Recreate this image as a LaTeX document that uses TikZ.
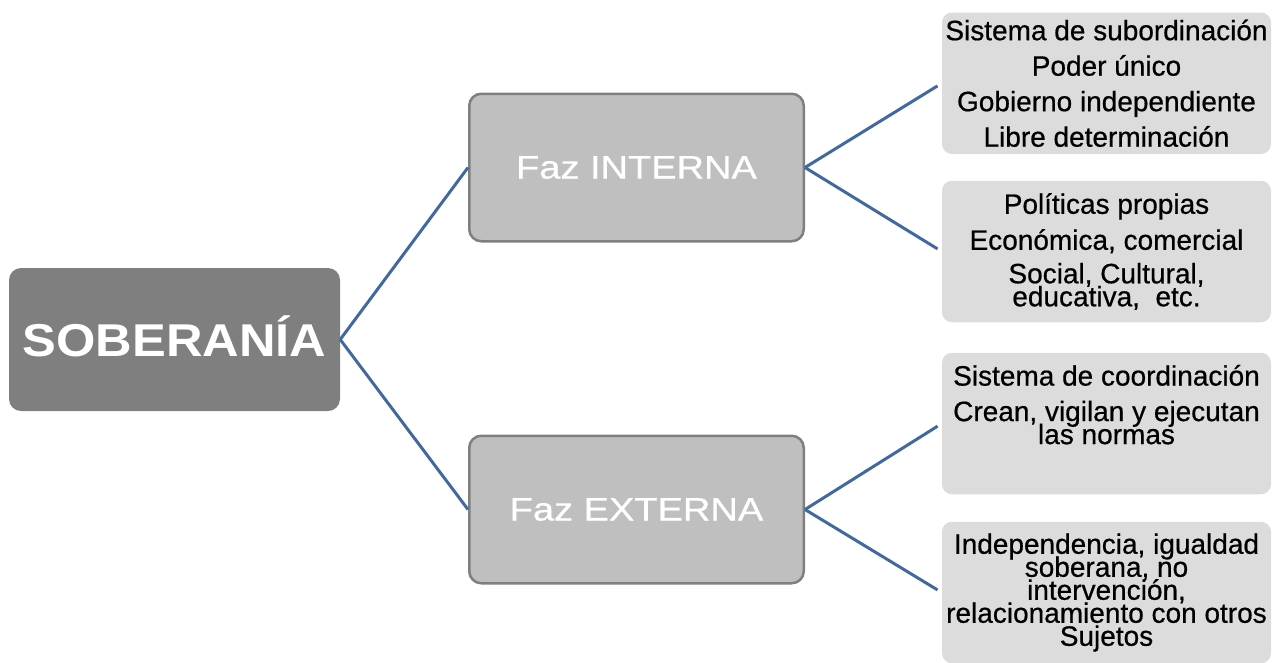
\documentclass[tikz,border=0pt]{standalone}
\usepackage{fontspec}
\setmainfont{Liberation Sans}
\newfontfamily\rootfont{Liberation Sans}[FakeStretch=1.1]
\newfontfamily\facefont{Liberation Sans}[FakeStretch=1.17, FakeBold=0.6]
\newfontfamily\leaffont{Liberation Sans}[FakeBold=0.6]
\usetikzlibrary{calc}
\definecolor{rootgray}{HTML}{7F7F7F}
\definecolor{facegray}{HTML}{BFBFBF}
\definecolor{leafgray}{HTML}{DCDCDC}
\definecolor{linkblue}{HTML}{4169A0}
\newcommand{\lowpad}[1]{\rule[-#1]{0pt}{#1}}

\begin{document}
\begin{tikzpicture}[x=1pt, y=-1pt,
        root/.style={fill=rootgray, rounded corners=12pt, minimum width=331pt, minimum height=143pt,
            text=white, font={\rootfont\bfseries\fontsize{46}{46}\selectfont}, text height=33pt, text depth=0pt},
        face/.style={fill=facegray, draw=rootgray, line width=2.5pt, rounded corners=12pt,
            minimum width=334.5pt, minimum height=147.5pt, text=white, font={\facefont\fontsize{32.5}{32.5}\selectfont}},
        leaf/.style={fill=leafgray, rounded corners=10pt, minimum width=329pt, minimum height=141.5pt,
            align=center, inner sep=0pt, font={\leaffont\fontsize{28}{23}\selectfont\lineskiplimit=-50pt}},
        link/.style={draw=linkblue, line width=3pt}]
        \useasboundingbox (0,0) rectangle (1279,662);

        \node[root] (sob) at (174.5,339.5) {SOBERANÍA};

        \node[face] (int) at (636.5,167.5) {Faz INTERNA};
        \node[face] (ext) at (636.5,509.5) {Faz EXTERNA};

        \node[leaf] (sub) at (1106.5,83.25) {Sistema de subordinación\\[12.5pt]Poder único\\[12.5pt]Gobierno independiente\\[12.5pt]Libre determinación};
        \node[leaf] (pol) at (1106.5,251.5) {Políticas propias\\[13pt]Económica, comercial\\[10.5pt]Social, Cultural,\\educativa, \ etc.};
        \node[leaf] (coo) at (1106.5,423.5) {Sistema de coordinación\\[12.5pt]Crean, vigilan y ejecutan\\las normas\lowpad{38pt}};
        \node[leaf] (ind) at (1106.5,592.5) {Independencia, igualdad\\soberana, no\\intervención,\\relacionamiento con otros\\Sujetos};

        \draw[link] (sob.east) -- (int.west);
        \draw[link] (sob.east) -- (ext.west);

        \draw[link, shorten >=5pt] (int.east) -- (sub.west);
        \draw[link, shorten >=5pt] (int.east) -- (pol.west);
        \draw[link, shorten >=5pt] (ext.east) -- (coo.west);
        \draw[link, shorten >=5pt] (ext.east) -- (ind.west);
    \end{tikzpicture}
\end{document}
